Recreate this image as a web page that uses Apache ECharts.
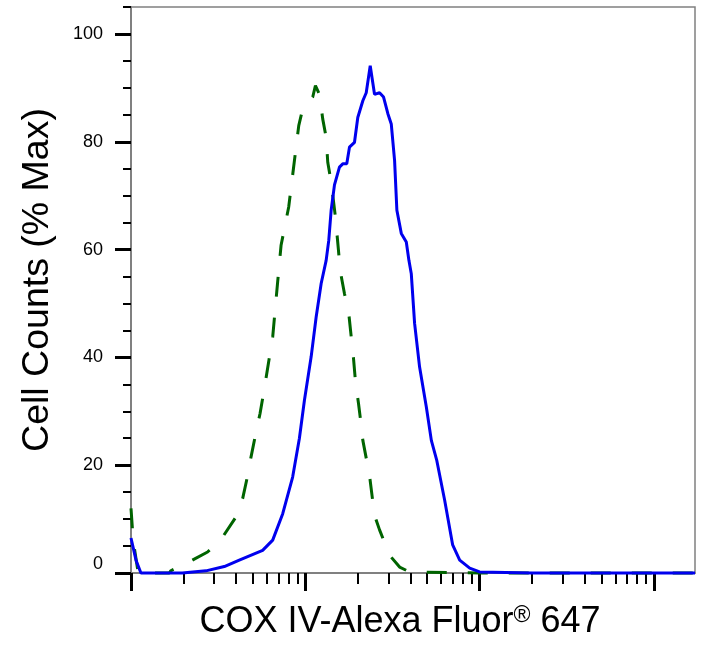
<!DOCTYPE html>
<html><head><meta charset="utf-8">
<script src="https://cdn.jsdelivr.net/npm/echarts@6/dist/echarts.min.js"></script>
<style>html,body{margin:0;padding:0;background:#fff}#c{width:724px;height:657px}</style>
</head><body><div id="c"></div>
<script>
// Tick positions
const xMajorTicks = [100, 1000, 10000, 100000];
const xMinorTicks = [200, 300, 400, 500, 600, 700, 800, 900,
  2000, 3000, 4000, 5000, 6000, 7000, 8000, 9000,
  20000, 30000, 40000, 50000, 60000, 70000, 80000, 90000];
const yMajorTicks = [0, 20, 40, 60, 80, 100];
const yMinorTicks = [5, 10, 15, 25, 30, 35, 45, 50, 55, 65, 70, 75, 85, 90, 95, 105];

// Stained sample (blue, solid)
const stainedX = [100, 107, 114, 197, 269, 343, 418, 569, 650, 742, 846, 925, 988, 1080, 1154, 1233, 1317, 1363, 1407, 1470, 1570, 1640, 1729, 1792, 1915, 2000, 2138, 2236, 2357, 2495, 2666, 2811, 2976, 3112, 3252, 3352, 3553, 3796, 3929, 4055, 4236, 4525, 4946, 5284, 5667, 6301, 7004, 7685, 8772, 10000, 20000, 50000, 100000, 172000];
const stainedY = [6.5, 2.3, 0, 0, 0.4, 1.2, 2.4, 4.2, 6.1, 11, 17.8, 25, 32, 40.1, 47.5, 53.7, 58, 61.7, 67.3, 72, 75.3, 75.9, 75.9, 79, 79.9, 84.5, 87.6, 89.1, 94.1, 88.8, 89.1, 88.3, 85.2, 83.3, 76.5, 67.3, 63, 61.4, 58, 55.5, 46.3, 38.2, 30.8, 24.6, 21, 13.5, 5.2, 2.4, 0.9, 0.2, 0, 0, 0, 0];

// Control (green, dashed)
const controlX = [100, 103, 110, 166, 169, 211, 275, 328, 400, 437, 467, 488, 522, 550, 582, 650, 679, 694, 726, 803, 866, 917, 966, 1028, 1103, 1143, 1205, 1259, 1317, 1345, 1407, 1489, 1550, 1585, 1678, 1776, 1834, 1890, 1941, 2020, 2093, 2138, 2335, 2495, 2666, 3043, 3474, 3966, 10000, 172000];
const controlY = [12, 6, 0, 0, 0.4, 1.9, 3.9, 6.2, 10.4, 13.8, 18.1, 21.5, 26.2, 29.6, 34.2, 43.8, 50.6, 54, 60.8, 67.9, 76.5, 83, 86.1, 87, 88.3, 90.4, 88.8, 84.2, 80.8, 76.2, 72.5, 66, 59.8, 56.1, 51.8, 48.1, 43.8, 39.8, 35.4, 31.4, 27.4, 24.6, 18.1, 10.7, 8, 3.3, 1.1, 0.2, 0, 0];

const FONT = 'Liberation Sans, Arial, sans-serif';
const X_MIN = 100, X_MAX = 172000, Y_MIN = 0, Y_MAX = 105;
const zip = (xs, ys) => xs.map((x, i) => [x, ys[i]]);

const chart = echarts.init(document.getElementById('c'), null, {renderer: 'canvas'});
chart.setOption({
  animation: false,
  backgroundColor: '#fff',
  grid: {left: 131, right: 29, top: 7, bottom: 84, show: true, borderColor: '#808080', borderWidth: 1.5, containLabel: false},
  xAxis: [
    {
      type: 'log', logBase: 10, min: X_MIN, max: X_MAX, position: 'bottom',
      axisLine: {show: true, lineStyle: {color: '#808080', width: 2}},
      axisTick: {show: true, customValues: xMajorTicks, length: 18, lineStyle: {color: '#000', width: 3}},
      axisLabel: {show: false},
      splitLine: {show: false}, minorTick: {show: false}, minorSplitLine: {show: false},
      name: '{a|COX IV-Alexa Fluor}{r|®}{a| 647}',
      nameLocation: 'middle', nameGap: 31,
      nameTextStyle: {
        color: '#000', fontFamily: FONT, fontSize: 36, padding: [0, 26, 0, 0],
        rich: {
          a: {fontSize: 36, fontFamily: FONT, color: '#000'},
          r: {fontSize: 23, fontFamily: FONT, color: '#000', verticalAlign: 'top'}
        }
      }
    },
    {
      type: 'log', logBase: 10, min: X_MIN, max: X_MAX, position: 'bottom',
      axisLine: {show: false},
      axisTick: {show: true, customValues: xMinorTicks, length: 11, lineStyle: {color: '#000', width: 2}},
      axisLabel: {show: false}, splitLine: {show: false}
    }
  ],
  yAxis: [
    {
      type: 'value', min: Y_MIN, max: Y_MAX, position: 'left',
      axisLine: {show: true, lineStyle: {color: '#808080', width: 2}},
      axisTick: {show: true, customValues: yMajorTicks, length: 16, lineStyle: {color: '#000', width: 3}},
      axisLabel: {
        show: true, customValues: yMajorTicks, margin: 28, color: '#000', fontFamily: FONT, fontSize: 18,
        formatter: v => v === 0 ? '{z|0}' : '{n|' + v + '}',
        rich: {
          z: {fontSize: 18, fontFamily: FONT, color: '#000', padding: [0, 0, 18, 0]},
          n: {fontSize: 18, fontFamily: FONT, color: '#000'}
        }
      },
      splitLine: {show: false},
      name: 'Cell Counts (% Max)', nameLocation: 'middle', nameGap: 74,
      nameTextStyle: {color: '#000', fontFamily: FONT, fontSize: 37.5, padding: [0, 0, 0, 20]}
    },
    {
      type: 'value', min: Y_MIN, max: Y_MAX, position: 'left',
      axisLine: {show: false},
      axisTick: {show: true, customValues: yMinorTicks, length: 8, lineStyle: {color: '#000', width: 2}},
      axisLabel: {show: false}, splitLine: {show: false}
    }
  ],
  series: [
    {
      name: 'Control', type: 'line', xAxisIndex: 0, yAxisIndex: 0,
      data: zip(controlX, controlY), showSymbol: false, symbol: 'none', clip: false,
      lineStyle: {color: '#006400', width: 3, type: [20, 21]}, z: 3
    },
    {
      name: 'COX IV', type: 'line', xAxisIndex: 0, yAxisIndex: 0,
      data: zip(stainedX, stainedY), showSymbol: false, symbol: 'none', clip: false,
      lineStyle: {color: '#0000ee', width: 3}, z: 4
    }
  ]
});
</script>
</body></html>
